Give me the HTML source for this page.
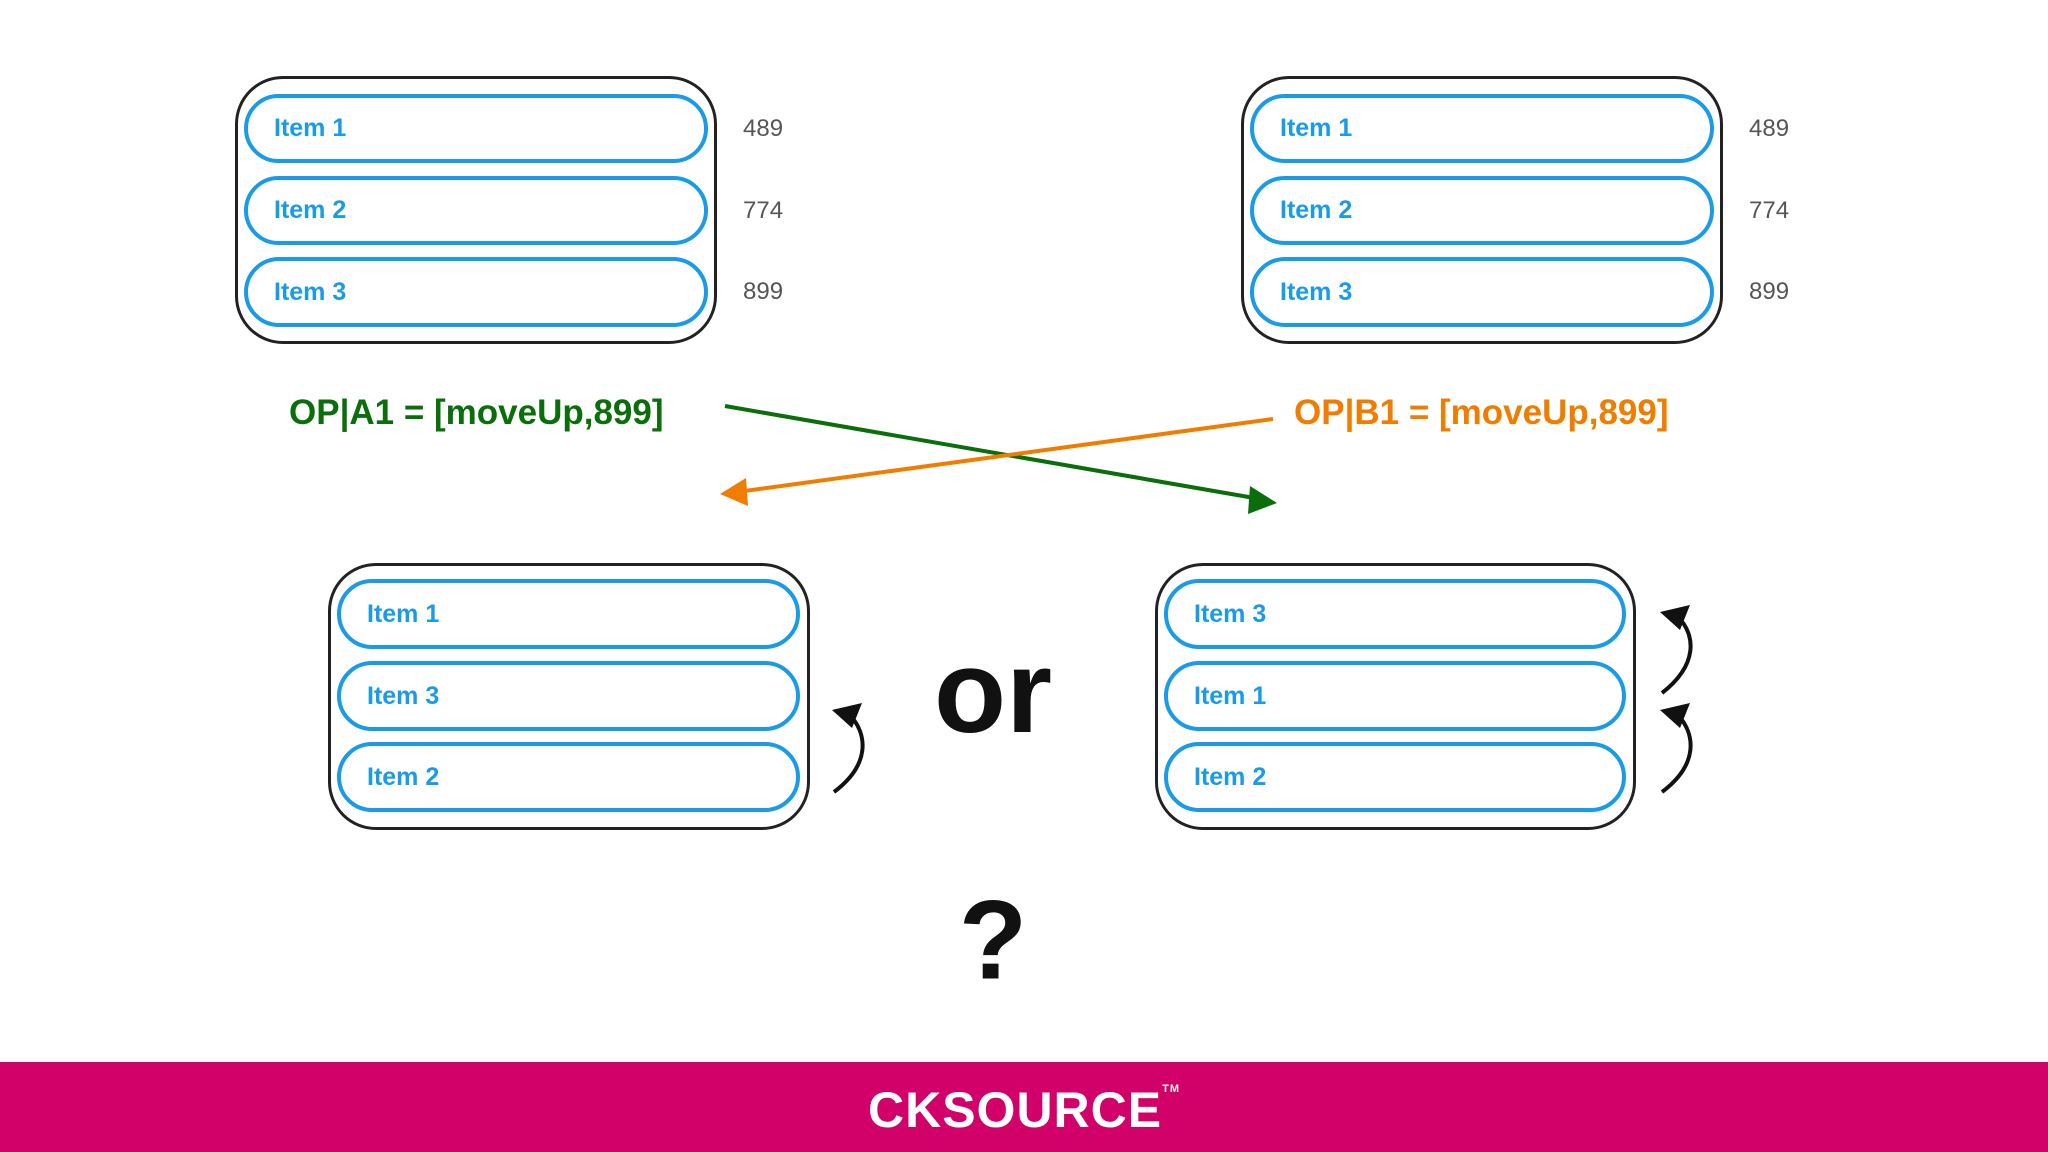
<!DOCTYPE html>
<html><head><meta charset="utf-8"><style>
body{margin:0;width:2048px;height:1152px;background:#fff;position:relative;overflow:hidden;font-family:"Liberation Sans",sans-serif}
.box{position:absolute;border:3px solid #222;border-radius:48px;box-sizing:border-box}
.pill{position:absolute;border:4px solid #1a9be8;border-radius:40px;box-sizing:border-box;color:#1a9be8;font-weight:bold;font-size:25px;display:flex;align-items:center;padding-left:26px}
.num{position:absolute;color:#555;font-size:24px;transform:translateY(-50%)}
.lbl{position:absolute;font-weight:bold;font-size:35px;transform:translateY(-50%)}
</style></head><body>
<div class="box" style="left:235px;top:76px;width:482px;height:268px"></div>
<div class="pill" style="left:244px;top:94px;width:464px;height:69px">Item 1</div>
<div class="pill" style="left:244px;top:176px;width:464px;height:69px">Item 2</div>
<div class="pill" style="left:244px;top:257px;width:464px;height:70px">Item 3</div>
<div class="num" style="left:743px;top:129px">489</div>
<div class="num" style="left:743px;top:211px">774</div>
<div class="num" style="left:743px;top:292px">899</div>

<div class="box" style="left:1241px;top:76px;width:482px;height:268px"></div>
<div class="pill" style="left:1250px;top:94px;width:464px;height:69px">Item 1</div>
<div class="pill" style="left:1250px;top:176px;width:464px;height:69px">Item 2</div>
<div class="pill" style="left:1250px;top:257px;width:464px;height:70px">Item 3</div>
<div class="num" style="left:1749px;top:129px">489</div>
<div class="num" style="left:1749px;top:211px">774</div>
<div class="num" style="left:1749px;top:292px">899</div>

<div class="lbl" style="left:289px;top:413px;color:#0a6e0a">OP|A1 = [moveUp,899]</div>
<div class="lbl" style="left:1294px;top:413px;color:#f07d00">OP|B1 = [moveUp,899]</div>

<div class="box" style="left:328px;top:563px;width:482px;height:267px"></div>
<div class="pill" style="left:337px;top:579px;width:463px;height:70px">Item 1</div>
<div class="pill" style="left:337px;top:661px;width:463px;height:70px">Item 3</div>
<div class="pill" style="left:337px;top:742px;width:463px;height:70px">Item 2</div>

<div class="box" style="left:1155px;top:563px;width:481px;height:267px"></div>
<div class="pill" style="left:1164px;top:579px;width:462px;height:70px">Item 3</div>
<div class="pill" style="left:1164px;top:661px;width:462px;height:70px">Item 1</div>
<div class="pill" style="left:1164px;top:742px;width:462px;height:70px">Item 2</div>

<div style="position:absolute;left:893px;top:692px;width:200px;text-align:center;transform:translateY(-50%);font-weight:bold;font-size:118px;color:#111">or</div>
<div style="position:absolute;left:893px;top:940px;width:200px;text-align:center;transform:translateY(-50%);font-weight:bold;font-size:112px;color:#111">?</div>

<svg width="2048" height="1152" style="position:absolute;left:0;top:0">
<line x1="725" y1="406" x2="1260" y2="499" stroke="#0a6e0a" stroke-width="4"/>
<polygon points="1277,503 1250,486 1248,514" fill="#0a6e0a"/>
<line x1="1273" y1="419" x2="737" y2="492" stroke="#f07d00" stroke-width="4"/>
<polygon points="720,494 746,478 748,506" fill="#f07d00"/>
<g fill="none" stroke="#111" stroke-width="4">
<path d="M834,792 C870,765 868,735 850,715"/>
<path d="M1662,693 C1698,665 1696,635 1678,617"/>
<path d="M1662,792 C1698,765 1696,735 1678,715"/>
</g>
<g fill="#111">
<polygon points="832,710 862,703 852,728"/>
<polygon points="1660,612 1690,605 1680,630"/>
<polygon points="1660,710 1690,703 1680,728"/>
</g>
</svg>

<div style="position:absolute;left:0;top:1062px;width:2048px;height:90px;background:#d20069"></div>
<div style="position:absolute;left:0;top:1081px;width:2048px;text-align:center;color:#fff;font-weight:bold;font-size:50px;letter-spacing:1px">CKSOURCE<sup style="font-size:11px;vertical-align:top;position:relative;top:2px">TM</sup></div>
</body></html>
